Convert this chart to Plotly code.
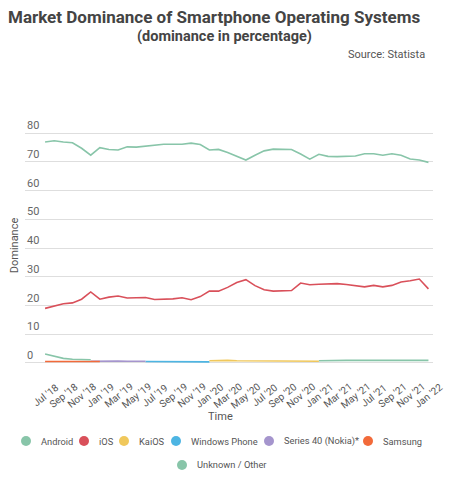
import plotly.graph_objects as go

# monthly, Jul 2018 .. Jan 2022
months = ["Jul '18", "Aug '18", "Sep '18", "Oct '18", "Nov '18", "Dec '18",
          "Jan '19", "Feb '19", "Mar '19", "Apr '19", "May '19", "Jun '19",
          "Jul '19", "Aug '19", "Sep '19", "Oct '19", "Nov '19", "Dec '19",
          "Jan '20", "Feb '20", "Mar '20", "Apr '20", "May '20", "Jun '20",
          "Jul '20", "Aug '20", "Sep '20", "Oct '20", "Nov '20", "Dec '20",
          "Jan '21", "Feb '21", "Mar '21", "Apr '21", "May '21", "Jun '21",
          "Jul '21", "Aug '21", "Sep '21", "Oct '21", "Nov '21", "Dec '21",
          "Jan '22"]

android = [76.9, 77.3, 76.9, 76.6, 74.7, 72.3, 74.9, 74.3, 74.1, 75.2, 75.1, 75.4,
           75.8, 76.1, 76.1, 76.1, 76.5, 76.0, 74.1, 74.3, 73.2, 71.8, 70.6, 72.3,
           73.8, 74.4, 74.3, 74.3, 72.7, 70.9, 72.6, 71.9, 71.8, 71.8, 72.0, 72.8,
           72.8, 72.3, 72.8, 72.3, 71.0, 70.6, 69.8]

ios = [19.0, 19.7, 20.6, 20.9, 22.2, 24.7, 22.2, 22.9, 23.3, 22.6, 22.8, 22.8,
       22.1, 22.1, 22.3, 22.7, 22.0, 23.1, 25.0, 25.0, 26.3, 28.0, 29.0, 26.9,
       25.5, 25.0, 25.2, 25.2, 27.8, 27.2, 27.4, 27.6, 27.6, 27.3, 26.8, 26.5,
       27.0, 26.5, 27.0, 28.2, 28.6, 29.2, 25.8]

N = None
kaios = [N] * 18 + [0.8, 0.9, 0.9, 0.8, 0.8, 0.8, 0.7, 0.7, 0.7, 0.7, 0.6, 0.6, 0.6] + [N] * 12
windows_phone = [N] * 11 + [0.5, 0.5, 0.5, 0.5, 0.5, 0.4, 0.4, 0.4] + [N] * 24
series40 = [N] * 5 + [0.6, 0.7, 0.7, 0.7, 0.6, 0.6, 0.6] + [N] * 31
samsung = [0.5, 0.5, 0.5, 0.5, 0.5, 0.5, 0.5] + [N] * 36
unknown = [3.1, 2.4, 1.6, 1.3, 1.2, 1.1] + [N] * 24 + [0.8, 0.9, 0.9, 0.9, 0.9, 0.9,
                                                       0.9, 0.9, 0.9, 0.9, 0.9, 0.9, 0.9]
y_ticks = [0, 10, 20, 30, 40, 50, 60, 70, 80]

series = [
    ("Android", android, "#88c5a9"),
    ("iOS", ios, "#d9505a"),
    ("KaiOS", kaios, "#f0c85c"),
    ("Windows Phone", windows_phone, "#4db5e3"),
    ("Series 40 (Nokia)*", series40, "#a595cd"),
    ("Samsung", samsung, "#f26a3a"),
    ("Unknown / Other", unknown, "#88c5a9"),
]

x = list(range(len(months)))
fig = go.Figure()
for name, vals, color in series:
    fig.add_trace(go.Scatter(x=x, y=vals, mode="lines", name=name,
                             line=dict(color=color, width=1.6)))

# the page adds an 8px body margin, so the figure is drawn 8px in from the window
W, H = 447, 472
# plot area spans x 25..433 and y 125..366 px of the window
def px(pix):
    return (pix - 25) / 408


def py(pix):
    return (366 - pix) / 241


# legend layout: (dot x, row y) in window pixels, one per series
legend_pos = [(26, 441), (84, 441), (124, 441), (176, 441), (269, 441), (368, 441),
              (182, 465)]

annotations = [
    dict(text="<b>(dominance in percentage)</b>", xref="paper", yref="paper",
         x=0.49, y=py(36), xanchor="center", yanchor="middle",
         showarrow=False, font=dict(size=14.5, color="#444")),
    dict(text="Source: Statista", xref="paper", yref="paper",
         x=0.985, y=py(55), xanchor="right", yanchor="middle",
         showarrow=False, font=dict(size=11, color="#555")),
    dict(text="Time", xref="paper", yref="paper",
         x=0.48, y=py(416), xanchor="center", yanchor="middle",
         showarrow=False, font=dict(size=11, color="#555")),
]
shapes = []
for (name, _, color), (lx, ly) in zip(series, legend_pos):
    shapes.append(dict(type="circle", xref="paper", yref="paper",
                       xsizemode="pixel", ysizemode="pixel",
                       xanchor=px(lx), yanchor=py(ly), x0=-5, x1=5, y0=-5, y1=5,
                       fillcolor=color, line=dict(width=0)))
    annotations.append(dict(text=name, xref="paper", yref="paper",
                            x=px(lx + 13), y=py(ly), xanchor="left", yanchor="middle",
                            showarrow=False, font=dict(size=9.3, color="#555")))
# y tick labels sit above their gridlines
for v in y_ticks:
    annotations.append(dict(text=str(v), xref="paper", yref="y", x=0, y=v,
                            xanchor="left", yanchor="bottom", yshift=-1,
                            showarrow=False, font=dict(size=11, color="#666")))
# x tick labels are centred on their month, rotated
for i in x[::2]:
    annotations.append(dict(text=months[i], xref="x", yref="paper", x=i, y=py(395),
                            xanchor="center", yanchor="middle", xshift=0,
                            textangle=-38, showarrow=False,
                            font=dict(size=10, color="#555")))

fig.update_layout(
    width=W, height=H,
    margin=dict(l=17, r=22, t=117, b=114),
    plot_bgcolor="white", paper_bgcolor="white",
    font=dict(family="Roboto", color="#555"),
    title=dict(text="<b>Market Dominance of Smartphone Operating Systems</b>",
               x=0, xanchor="left", y=1 - 9 / H, yanchor="middle",
               font=dict(size=17, color="#444")),
    showlegend=False,
    annotations=annotations,
    shapes=shapes,
)

fig.update_xaxes(range=[-2.2, 42.5], tickvals=x[::2], showticklabels=False,
                 showgrid=False, zeroline=False, showline=False, ticks="",
                 automargin=False)
fig.update_yaxes(range=[-1.05, 82.8], tickvals=y_ticks, showticklabels=False,
                 showgrid=True, gridcolor="#dedede", gridwidth=1,
                 zeroline=True, zerolinecolor="#dedede", zerolinewidth=1,
                 showline=False, ticks="", automargin=False,
                 title=dict(text="Dominance", font=dict(size=11, color="#555"), standoff=6))

fig.write_html("out.html")
